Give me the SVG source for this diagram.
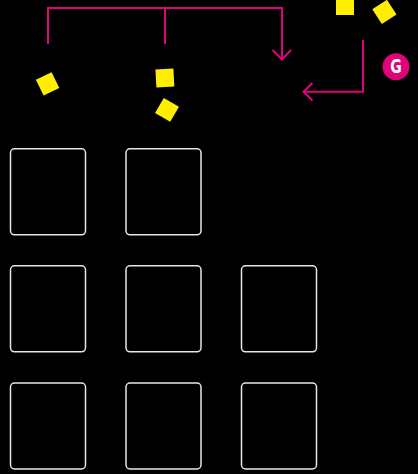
<svg xmlns="http://www.w3.org/2000/svg" width="418" height="474" viewBox="0 0 418 474">
<style>
.box{fill:#000;stroke:#e6e6e6;stroke-width:1.5}
.conn{fill:none;stroke:#e0037c;stroke-width:2}
.sq{fill:#ffee00}
</style>
<rect width="418" height="474" fill="#000"/>
<g id="connectors">
<path class="conn" d="M48,44 V8 H282 V59 M165,8 V44"/>
<path class="conn" d="M272.5,50 L282,59.5 L291,50"/>
<path class="conn" d="M363,40 V91.7 H303.5"/>
<path class="conn" d="M312.5,83 L303.5,91.7 L312.5,100.5"/>
</g>
<g id="badge-g">
<circle cx="396" cy="66.7" r="13.5" fill="#e0037c"/>
<text transform="translate(396,73.3) scale(0.82,1)" x="0" y="0" text-anchor="middle" font-family="'DejaVu Sans Condensed','DejaVu Sans',sans-serif" font-weight="bold" font-size="19" fill="#fff">G</text>
</g>
<g id="tokens">
<rect class="sq" x="336" y="-3" width="18" height="18"/>
<rect class="sq" x="-8.75" y="-8.75" width="17.5" height="17.5" transform="translate(384.4,11.9) rotate(-33)"/>
<rect class="sq" x="-8.75" y="-8.75" width="17.5" height="17.5" transform="translate(47.6,83.9) rotate(-26)"/>
<rect class="sq" x="-9" y="-9" width="18" height="18" transform="translate(164.9,78) rotate(-3)"/>
<rect class="sq" x="-8.75" y="-8.75" width="17.5" height="17.5" transform="translate(167,109.9) rotate(30)"/>
</g>
<g id="box-1-1"><rect class="box" x="10.5" y="148.8" width="75" height="86" rx="4"/></g>
<g id="box-1-2"><rect class="box" x="126" y="148.8" width="75" height="86" rx="4"/></g>
<g id="box-2-1"><rect class="box" x="10.5" y="265.8" width="75" height="86" rx="4"/></g>
<g id="box-2-2"><rect class="box" x="126" y="265.8" width="75" height="86" rx="4"/></g>
<g id="box-2-3"><rect class="box" x="241.5" y="265.8" width="75" height="86" rx="4"/></g>
<g id="box-3-1"><rect class="box" x="10.5" y="383" width="75" height="86" rx="4"/></g>
<g id="box-3-2"><rect class="box" x="126" y="383" width="75" height="86" rx="4"/></g>
<g id="box-3-3"><rect class="box" x="241.5" y="383" width="75" height="86" rx="4"/></g>
</svg>
